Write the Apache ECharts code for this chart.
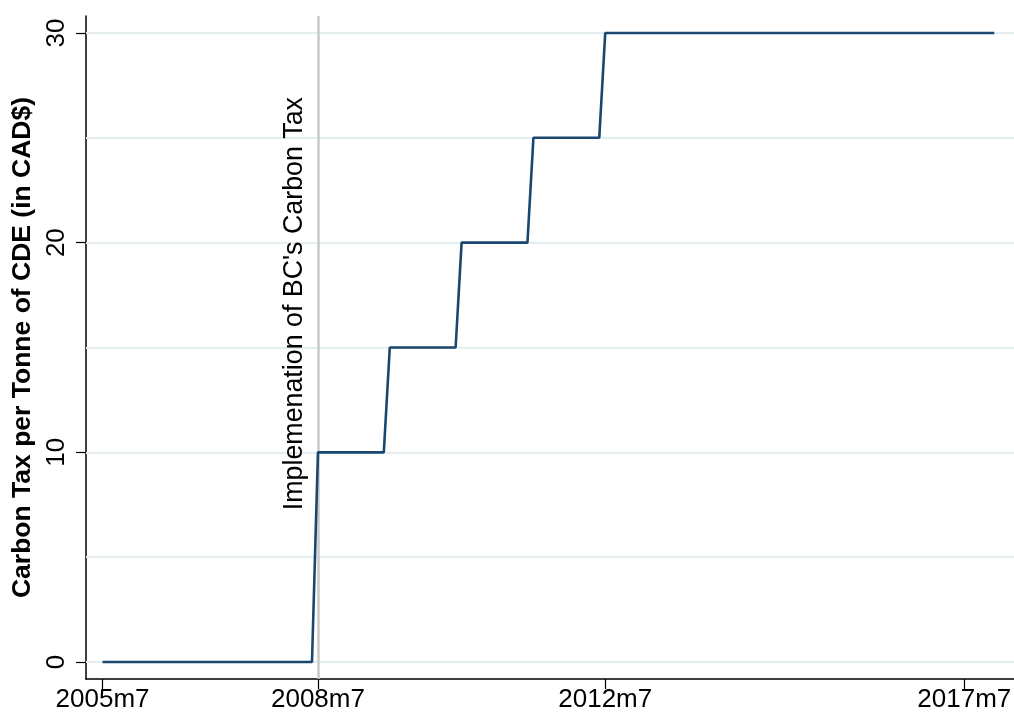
<!DOCTYPE html>
<html>
<head>
<meta charset="utf-8">
<script src="https://cdn.jsdelivr.net/npm/echarts@6/dist/echarts.min.js"></script>
<style>html,body{margin:0;padding:0;background:#fff}#c{width:1014px;height:715px}</style>
</head>
<body>
<div id="c"></div>
<script>
// Rate schedule (start month of each rate) and values
var rateStartMonths = ['2005m7', '2008m7', '2009m7', '2010m7', '2011m7', '2012m7'];
var rateValues = [0, 10, 15, 20, 25, 30];
var firstMonth = '2005m7';
var lastMonth = '2017m12';
var implementationMonth = '2008m7';
var xTickLabels = ['2005m7', '2008m7', '2012m7', '2017m7'];
var yTickValues = [0, 10, 20, 30];
var yGridValues = [0, 5, 10, 15, 20, 25, 30];

function mIdx(s) {
  var p = s.split('m');
  var f = firstMonth.split('m');
  return (parseInt(p[0]) - parseInt(f[0])) * 12 + (parseInt(p[1]) - parseInt(f[1]));
}
function idxLabel(i) {
  var f = firstMonth.split('m');
  var t = parseInt(f[0]) * 12 + parseInt(f[1]) - 1 + i;
  return Math.floor(t / 12) + 'm' + (t % 12 + 1);
}
var data = [];
var n = mIdx(lastMonth);
for (var i = 0; i <= n; i++) {
  var v = rateValues[0];
  for (var k = 0; k < rateStartMonths.length; k++) {
    if (i >= mIdx(rateStartMonths[k])) v = rateValues[k];
  }
  data.push([i, v]);
}
var xTickIdx = xTickLabels.map(mIdx);

var font = 'Liberation Sans, Arial, Helvetica, sans-serif';
var chart = echarts.init(document.getElementById('c'), null, {renderer: 'canvas'});
chart.setOption({
  animation: false,
  backgroundColor: '#ffffff',
  grid: {left: 86, right: 0, top: 16, bottom: 36, containLabel: false, outerBoundsMode: 'none'},
  xAxis: {
    type: 'value',
    min: -2.76, max: 152.3,
    axisLine: {show: true, onZero: false, lineStyle: {color: '#000', width: 1.5}},
    axisTick: {show: true, customValues: xTickIdx, length: 10, lineStyle: {color: '#000', width: 1.2}},
    axisLabel: {customValues: xTickIdx, formatter: function (v) { return idxLabel(Math.round(v)); },
      color: '#000', fontSize: 26, fontFamily: font, margin: 8},
    splitLine: {show: false}
  },
  yAxis: {
    type: 'value',
    min: -0.81, max: 30.81,
    name: 'Carbon Tax per Tonne of CDE (in CAD$)',
    nameLocation: 'middle', nameRotate: 90, nameGap: 30,
    nameTextStyle: {color: '#000', fontSize: 26.5, fontWeight: 'bold', fontFamily: font},
    axisLine: {show: true, onZero: false, lineStyle: {color: '#000', width: 1.5}},
    axisTick: {show: true, customValues: yTickValues, length: 10, lineStyle: {color: '#000', width: 1.2}},
    axisLabel: {customValues: yTickValues, rotate: 90, color: '#000', fontSize: 26, fontFamily: font, margin: 16},
    splitLine: {show: false}
  },
  series: [
    {
      type: 'line', data: [], silent: true, z: 1,
      markLine: {
        z: 1,
        silent: true, symbol: 'none', animation: false,
        lineStyle: {color: '#e4edf0', width: 2, type: 'solid'},
        label: {show: false},
        data: yGridValues.map(function (v) { return {yAxis: v}; })
      }
    },
    {
      type: 'line', data: [], silent: true, z: 2,
      markLine: {
        z: 2,
        silent: true, symbol: 'none', animation: false,
        lineStyle: {color: '#c8c8c8', width: 2.5, type: 'solid'},
        label: {show: true, position: 'insideEndTop', formatter: "Implemenation of BC's Carbon Tax",
          color: '#000', fontSize: 26.8, fontFamily: font, distance: [81, 10]},
        data: [{xAxis: mIdx(implementationMonth)}]
      }
    },
    {
      type: 'line', data: data, z: 10,
      showSymbol: false, symbol: 'none',
      lineStyle: {color: '#1a476f', width: 2.6},
      itemStyle: {color: '#1a476f'}
    }
  ]
});
</script>
</body>
</html>
